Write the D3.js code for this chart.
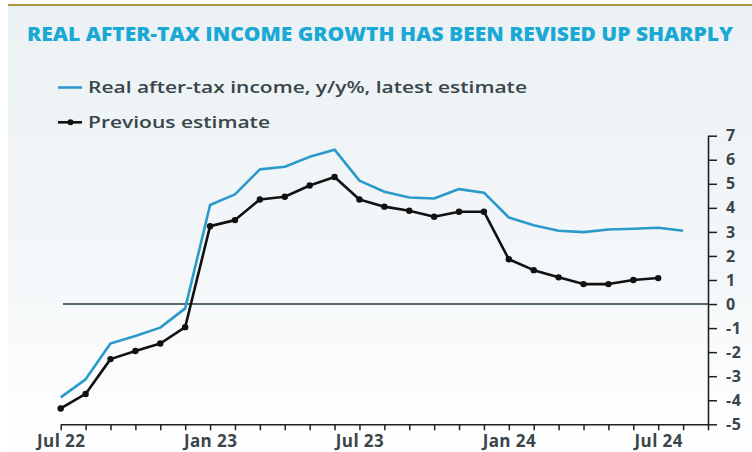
<!DOCTYPE html>
<html>
<head>
<meta charset="utf-8">
<script src="https://cdn.jsdelivr.net/npm/d3@7"></script>
<style>
  html, body { margin: 0; padding: 0; background: #ffffff; }
  svg { display: block; }
</style>
</head>
<body>
<svg id="chart" width="752" height="452"></svg>
<script>
// Monthly observations, Jul 2022 onwards (index 0 = Jul 22)
const months = ["Jul 22","Aug 22","Sep 22","Oct 22","Nov 22","Dec 22",
  "Jan 23","Feb 23","Mar 23","Apr 23","May 23","Jun 23",
  "Jul 23","Aug 23","Sep 23","Oct 23","Nov 23","Dec 23",
  "Jan 24","Feb 24","Mar 24","Apr 24","May 24","Jun 24",
  "Jul 24","Aug 24"];

// Real after-tax income, y/y %, latest estimate (Jul 22 – Aug 24)
const latestEstimate = [-3.88, -3.13, -1.64, -1.33, -0.98, -0.18,
  4.12, 4.56, 5.60, 5.71, 6.12, 6.42,
  5.13, 4.67, 4.43, 4.39, 4.78, 4.63,
  3.60, 3.28, 3.05, 2.99, 3.10, 3.13,
  3.17, 3.05];

// Previous estimate (Jul 22 – Jul 24)
const previousEstimate = [-4.34, -3.74, -2.29, -1.95, -1.64, -0.96,
  3.24, 3.49, 4.35, 4.46, 4.93, 5.28,
  4.35, 4.05, 3.88, 3.63, 3.84, 3.84,
  1.86, 1.41, 1.11, 0.83, 0.83, 1.00,
  1.08];

// Labelled x ticks (month index -> label)
const xTickLabels = [[0, "Jul 22"], [6, "Jan 23"], [12, "Jul 23"], [18, "Jan 24"], [24, "Jul 24"]];
const yTicks = [-5, -4, -3, -2, -1, 0, 1, 2, 3, 4, 5, 6, 7];

const titleText = "REAL AFTER-TAX INCOME GROWTH HAS BEEN REVISED UP SHARPLY";
const legendLabels = ["Real after-tax income, y/y%, latest estimate", "Previous estimate"];

const svg = d3.select("#chart");
const W = 752, H = 452;
const labelFont = "'Open Sans', 'DejaVu Sans', sans-serif";
const textColor = "#38454a";
const blue = "#2b9acb";
const black = "#111111";

// Panel background
const defs = svg.append("defs");
const grad = defs.append("linearGradient").attr("id", "bg").attr("x1", 0).attr("y1", 0).attr("x2", 0).attr("y2", 1);
grad.append("stop").attr("offset", "0%").attr("stop-color", "#ebf1f4");
grad.append("stop").attr("offset", "60%").attr("stop-color", "#f4f7f9");
grad.append("stop").attr("offset", "100%").attr("stop-color", "#ffffff");
svg.append("rect").attr("x", 8).attr("y", 5).attr("width", W - 8).attr("height", H - 5).attr("fill", "url(#bg)");
svg.append("line").attr("x1", 8).attr("x2", W).attr("y1", 5).attr("y2", 5)
  .attr("stroke", "#a8953f").attr("stroke-width", 2);

// Title
svg.append("text")
  .attr("x", 27).attr("y", 41)
  .attr("font-family", "'Open Sans', sans-serif")
  .attr("font-weight", 800).attr("font-size", 19)
  .attr("fill", "#1aa8d4")
  .attr("textLength", 706).attr("lengthAdjust", "spacingAndGlyphs")
  .text(titleText);

// Scales
const x = d3.scaleLinear().domain([0, 26]).range([60.7, 708]);
const y = d3.scaleLinear().domain([-5, 7]).range([424.3, 135.7]);

// Zero line
svg.append("line")
  .attr("x1", 63).attr("x2", x(26))
  .attr("y1", y(0)).attr("y2", y(0))
  .attr("stroke", "#23393f").attr("stroke-width", 1.4);

// Axes
const labelMap = new Map(xTickLabels);
const xAxis = d3.axisBottom(x)
  .tickValues(d3.range(0, 27))
  .tickSize(6).tickSizeOuter(0).tickPadding(5)
  .tickFormat(i => labelMap.get(i) || "");
const gx = svg.append("g").attr("transform", `translate(0,${y(-5)})`).call(xAxis);

const yAxis = d3.axisRight(y)
  .tickValues(yTicks)
  .tickSize(9).tickSizeOuter(0).tickPadding(9)
  .tickFormat(d => String(d));
const gy = svg.append("g").attr("transform", `translate(${x(26)},0)`).call(yAxis);

[gx, gy].forEach(g => {
  g.select(".domain").attr("stroke", "#1e2224").attr("stroke-width", 1.6);
  g.selectAll(".tick line").attr("stroke", "#1e2224").attr("stroke-width", 1.5);
  g.selectAll(".tick text")
    .attr("fill", textColor)
    .attr("font-family", labelFont)
    .attr("font-weight", 700);
});
gx.selectAll(".tick text").attr("font-size", 17).attr("letter-spacing", 0.4);
gy.selectAll(".tick text").attr("font-size", 16).attr("letter-spacing", 0.6);

// Series lines
const line = d3.line().x((d, i) => x(i)).y(d => y(d));

svg.append("path").datum(latestEstimate)
  .attr("fill", "none").attr("stroke", blue).attr("stroke-width", 2.6)
  .attr("stroke-linejoin", "round")
  .attr("d", line);

svg.append("path").datum(previousEstimate)
  .attr("fill", "none").attr("stroke", black).attr("stroke-width", 2.6)
  .attr("stroke-linejoin", "round")
  .attr("d", line);

svg.append("g").selectAll("circle").data(previousEstimate).join("circle")
  .attr("cx", (d, i) => x(i)).attr("cy", d => y(d)).attr("r", 3.2)
  .attr("fill", black);

// Legend
const legend = svg.append("g");
const legendRows = [
  { label: legendLabels[0], color: blue, marker: false, y: 87.5, width: 439 },
  { label: legendLabels[1], color: black, marker: true, y: 122.3, width: 182 }
];
legendRows.forEach(r => {
  legend.append("line").attr("x1", 58).attr("x2", 82).attr("y1", r.y).attr("y2", r.y)
    .attr("stroke", r.color).attr("stroke-width", 2.6);
  if (r.marker) {
    legend.append("circle").attr("cx", 70.5).attr("cy", r.y).attr("r", 3).attr("fill", r.color);
  }
  legend.append("text")
    .attr("x", 88).attr("y", r.y + 5.5)
    .attr("font-family", labelFont).attr("font-weight", 600).attr("font-size", 17)
    .attr("fill", textColor)
    .attr("textLength", r.width).attr("lengthAdjust", "spacingAndGlyphs")
    .text(r.label);
});
</script>
</body>
</html>
